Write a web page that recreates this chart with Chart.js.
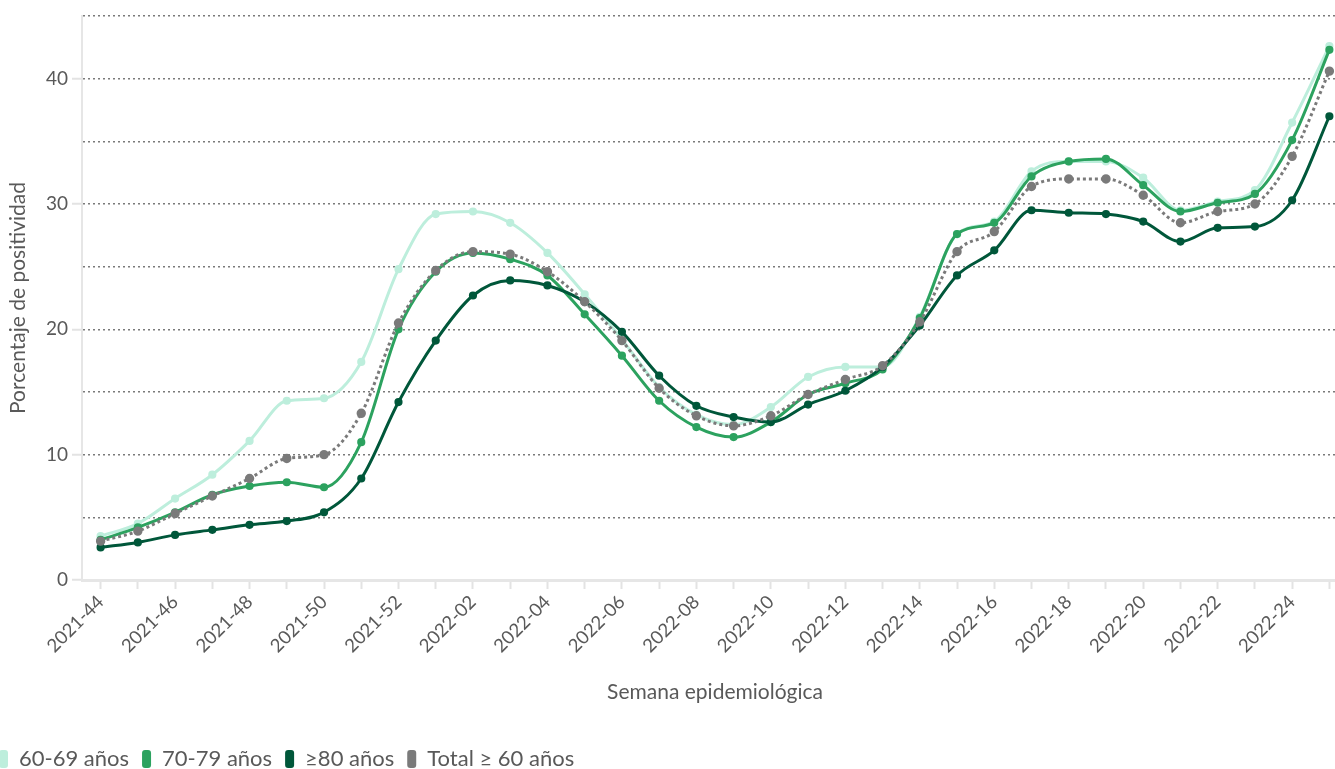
<!DOCTYPE html>
<html>
<head>
<meta charset="utf-8">
<script src="https://cdn.jsdelivr.net/npm/chart.js@4.4.1/dist/chart.umd.min.js"></script>
<style>
  html, body { margin: 0; padding: 0; background: #fff; overflow: hidden; width: 1335px; height: 769px; }
  #wrap { position: absolute; left: -14px; top: 0; width: 1369px; height: 780px; }
</style>
</head>
<body>
<div id="wrap"><canvas id="c"></canvas></div>
<script>
const weeks = ['2021-44','2021-45','2021-46','2021-47','2021-48','2021-49','2021-50','2021-51','2021-52',
  '2022-01','2022-02','2022-03','2022-04','2022-05','2022-06','2022-07','2022-08','2022-09','2022-10',
  '2022-11','2022-12','2022-13','2022-14','2022-15','2022-16','2022-17','2022-18','2022-19','2022-20',
  '2022-21','2022-22','2022-23','2022-24','2022-25'];

const age60_69 = [3.5, 4.5, 6.5, 8.4, 11.1, 14.3, 14.5, 17.4, 24.8, 29.2, 29.4, 28.5, 26.1, 22.8, 19.2, 15.4,
  13.2, 12.4, 13.8, 16.2, 17.0, 17.0, 21.0, 27.6, 28.6, 32.6, 33.4, 33.4, 32.1, 29.5, 30.2, 31.1, 36.5, 42.6];
const age70_79 = [3.2, 4.2, 5.4, 6.8, 7.5, 7.8, 7.4, 11.0, 20.0, 24.6, 26.1, 25.6, 24.3, 21.2, 17.9, 14.3,
  12.2, 11.4, 12.6, 14.8, 15.7, 16.8, 20.9, 27.6, 28.5, 32.2, 33.4, 33.6, 31.5, 29.4, 30.1, 30.8, 35.1, 42.3];
const age80plus = [2.6, 3.0, 3.6, 4.0, 4.4, 4.7, 5.4, 8.1, 14.2, 19.1, 22.7, 23.9, 23.5, 22.2, 19.8, 16.3,
  13.9, 13.0, 12.6, 14.0, 15.1, 17.0, 20.3, 24.3, 26.3, 29.5, 29.3, 29.2, 28.6, 27.0, 28.1, 28.2, 30.3, 37.0];
const total60plus = [3.1, 3.9, 5.3, 6.7, 8.1, 9.7, 10.0, 13.3, 20.5, 24.7, 26.2, 26.0, 24.6, 22.2, 19.1, 15.3,
  13.1, 12.3, 13.1, 14.8, 16.0, 17.1, 20.6, 26.2, 27.8, 31.4, 32.0, 32.0, 30.7, 28.5, 29.4, 30.0, 33.8, 40.6];

const seriesNames = ['60-69 años', '70-79 años', '\u226580 años', 'Total \u2265 60 años'];
const yTicks = [0, 10, 20, 30, 40];

const FONT = 'Lato';
const TXT = '#595959';

function ds(label, data, color, order, dashed) {
  return {
    label, data, order,
    borderColor: color, backgroundColor: color,
    pointBackgroundColor: color, pointBorderColor: color,
    borderWidth: 3, pointRadius: dashed ? 3.2 : 2.6, pointHoverRadius: 4,
    cubicInterpolationMode: 'monotone', fill: false,
    borderDash: dashed ? [3, 3] : [],
  };
}

new Chart(document.getElementById('c'), {
  type: 'line',
  data: {
    labels: weeks,
    datasets: [
      ds(seriesNames[0], age60_69, '#bdeedc', 4, false),
      ds(seriesNames[1], age70_79, '#2ca25f', 3, false),
      ds(seriesNames[2], age80plus, '#00573a', 2, false),
      ds(seriesNames[3], total60plus, '#7a7a7a', 1, true),
    ]
  },
  options: {
    responsive: true,
    maintainAspectRatio: false,
    animation: false,
    layout: { padding: { top: 16, left: 0, right: 0, bottom: 0 } },
    plugins: {
      tooltip: { enabled: false },
      legend: {
        position: 'bottom',
        align: 'start',
        labels: {
          sort: (a, b) => a.datasetIndex - b.datasetIndex,
          boxWidth: 9, boxHeight: 18, padding: 13,
          useBorderRadius: true, borderRadius: 3,
          color: TXT,
          font: { family: FONT, size: 22 },
          generateLabels: (chart) => chart.data.datasets.map((d, i) => ({
            text: d.label, fillStyle: d.borderColor, strokeStyle: d.borderColor,
            lineWidth: 0, hidden: false, datasetIndex: i, borderRadius: 3,
            fontColor: TXT
          }))
        }
      }
    },
    scales: {
      x: {
        offset: true,
        grid: { drawOnChartArea: false, drawTicks: true, tickLength: 9, tickColor: '#e3e3e3', tickWidth: 2 },
        border: { display: true, color: '#e6e6e6', width: 3 },
        ticks: {
          autoSkip: false, maxRotation: 45, minRotation: 45, padding: 2,
          color: TXT, font: { family: FONT, size: 18.5 },
          callback: function(v, i) { return i % 2 === 0 ? this.getLabelForValue(v) : ''; }
        },
        title: { display: true, text: 'Semana epidemiológica', color: TXT,
          font: { family: FONT, size: 21 }, padding: { top: 0, bottom: 30 } },
        afterFit: (s) => { s.height = 155; }
      },
      y: {
        min: 0, max: 45,
        grid: {
          color: (c) => (c.tick && c.tick.value === 0) ? 'rgba(0,0,0,0)' : '#7a7a7a',
          lineWidth: 1.5,
          tickBorderDash: [],
          tickLength: 10,
          tickColor: (c) => (c.tick && c.tick.value % 10 === 0) ? '#e3e3e3' : 'rgba(0,0,0,0)',
          tickWidth: 2,
        },
        border: { display: true, color: '#e6e6e6', width: 2, dash: [2, 3] },
        ticks: {
          stepSize: 5, padding: 4, color: TXT, font: { family: FONT, size: 19 },
          callback: (v) => yTicks.includes(v) ? String(v) : ''
        },
        title: { display: true, text: 'Porcentaje de positividad', color: TXT,
          font: { family: FONT, size: 21 }, padding: { top: 20, bottom: 0 } },
        afterFit: (s) => { s.width = 96; }
      }
    }
  }
});
</script>
</body>
</html>
